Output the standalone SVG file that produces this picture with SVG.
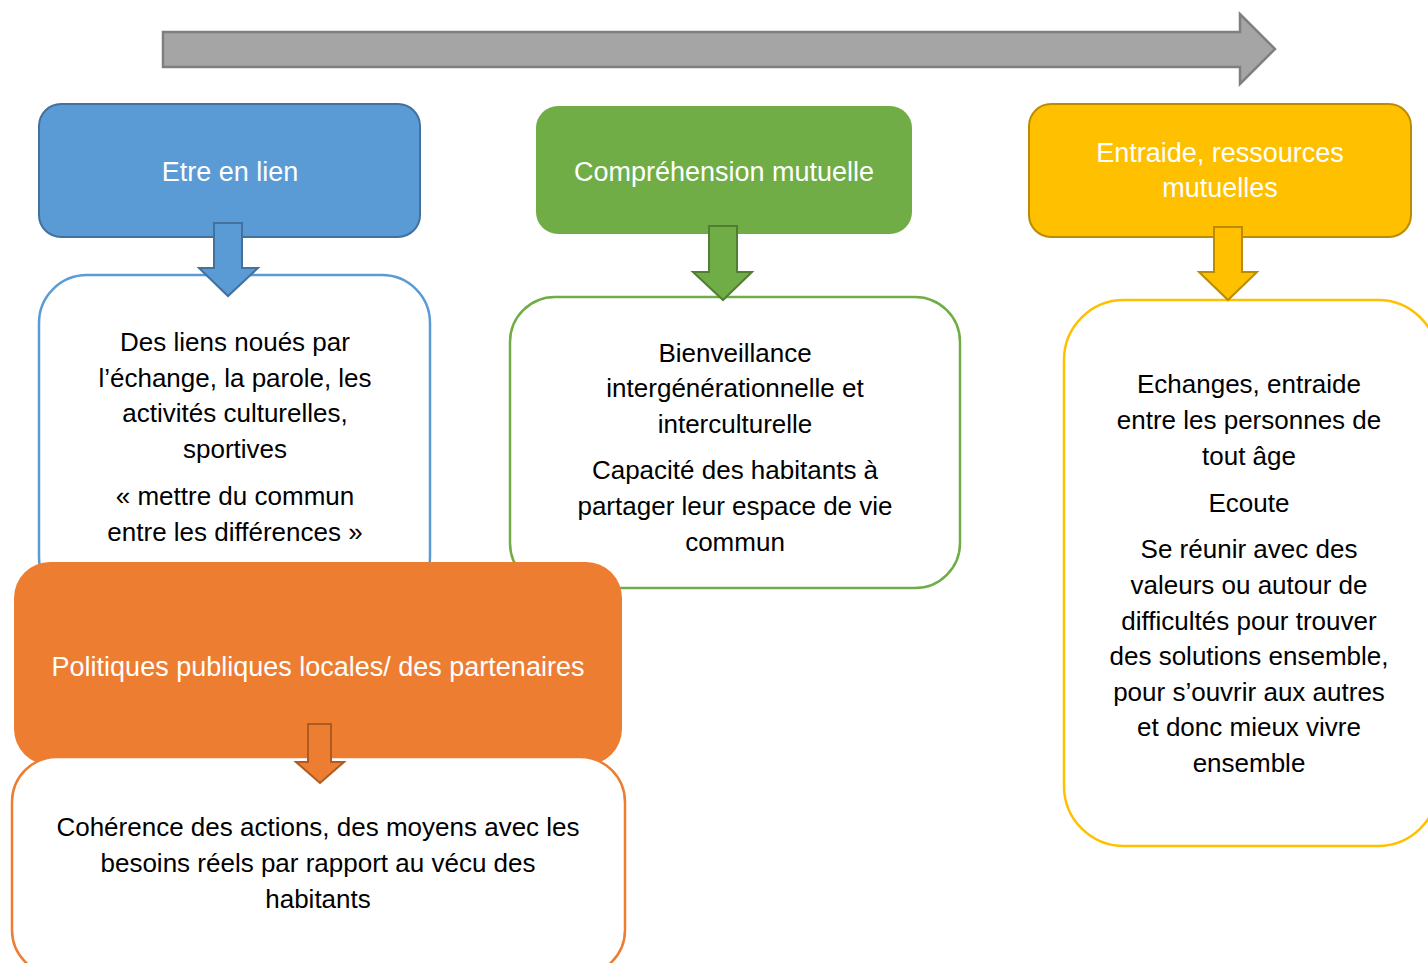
<svg xmlns="http://www.w3.org/2000/svg" width="1428" height="963" viewBox="0 0 1428 963">
<style>
text{font-family:"Liberation Sans",Arial,sans-serif;font-size:26px;text-anchor:middle}
.hd{fill:#ffffff;font-size:27px}
.bd{fill:#000000}
.box{fill:#ffffff;stroke-width:2.5}
</style>
<rect width="1428" height="963" fill="#ffffff"/>
<g id="timeline">
<path d="M163,32 H1240 V14 L1275,49 L1240,84 V67 H163 Z" fill="#a5a5a5" stroke="#7f7f7f" stroke-width="2.5"/>
</g>
<g id="blue-content">
<rect class="box" x="39" y="275" width="391" height="330" rx="48" stroke="#5b9bd5"/>
<text class="bd" x="235" y="351">Des liens noués par</text>
<text class="bd" x="235" y="386.5">l’échange, la parole, les</text>
<text class="bd" x="235" y="422">activités culturelles,</text>
<text class="bd" x="235" y="458">sportives</text>
<text class="bd" x="235" y="505">« mettre du commun</text>
<text class="bd" x="235" y="541">entre les différences »</text>
</g>
<g id="blue-header">
<rect x="39" y="104" width="381" height="133" rx="22" fill="#5b9bd5" stroke="#41719c" stroke-width="2"/>
<text class="hd" x="230" y="181">Etre en lien</text>
</g>
<g id="green-content">
<rect class="box" x="510" y="297" width="450" height="291" rx="45" stroke="#70ad47"/>
<text class="bd" x="735" y="361.5">Bienveillance</text>
<text class="bd" x="735" y="397">intergénérationnelle et</text>
<text class="bd" x="735" y="432.5">interculturelle</text>
<text class="bd" x="735" y="479">Capacité des habitants à</text>
<text class="bd" x="735" y="514.5">partager leur espace de vie</text>
<text class="bd" x="735" y="550.5">commun</text>
</g>
<g id="green-header">
<rect x="536" y="106" width="376" height="128" rx="22" fill="#70ad47"/>
<text class="hd" x="724" y="181">Compréhension mutuelle</text>
</g>
<g id="yellow-content">
<rect class="box" x="1064" y="300" width="374" height="546" rx="60" stroke="#ffc000"/>
<text class="bd" x="1249" y="393">Echanges, entraide</text>
<text class="bd" x="1249" y="429">entre les personnes de</text>
<text class="bd" x="1249" y="464.5">tout âge</text>
<text class="bd" x="1249" y="511.5">Ecoute</text>
<text class="bd" x="1249" y="558">Se réunir avec des</text>
<text class="bd" x="1249" y="593.5">valeurs ou autour de</text>
<text class="bd" x="1249" y="629.5">difficultés pour trouver</text>
<text class="bd" x="1249" y="665">des solutions ensemble,</text>
<text class="bd" x="1249" y="700.5">pour s’ouvrir aux autres</text>
<text class="bd" x="1249" y="736">et donc mieux vivre</text>
<text class="bd" x="1249" y="771.5">ensemble</text>
</g>
<g id="yellow-header">
<rect x="1029" y="104" width="382" height="133" rx="22" fill="#ffc000" stroke="#bc8c00" stroke-width="2"/>
<text class="hd" x="1220" y="161.5">Entraide, ressources</text>
<text class="hd" x="1220" y="197">mutuelles</text>
</g>
<g id="orange-header">
<rect x="14" y="562" width="608" height="203" rx="36" fill="#ed7d31"/>
<text class="hd" x="318" y="676">Politiques publiques locales/ des partenaires</text>
</g>
<g id="orange-content">
<rect class="box" x="12" y="757" width="613" height="218" rx="45" stroke="#ed7d31"/>
<text class="bd" x="318" y="836">Cohérence des actions, des moyens avec les</text>
<text class="bd" x="318" y="872">besoins réels par rapport au vécu des</text>
<text class="bd" x="318" y="908">habitants</text>
</g>
<g id="connectors">
<path d="M214,223 H242 V268 H258 L228,296 L199,268 H214 Z" fill="#5b9bd5" stroke="#41719c" stroke-width="2"/>
<path d="M709,226 H737 V272 H752 L723,300 L693,272 H709 Z" fill="#70ad47" stroke="#507e32" stroke-width="2"/>
<path d="M1214,227 H1242 V272 H1257 L1228,300 L1199,272 H1214 Z" fill="#ffc000" stroke="#bc8c00" stroke-width="2"/>
<path d="M308,724 H331 V762 H344 L320,783 L296,762 H308 Z" fill="#ed7d31" stroke="#ae5a21" stroke-width="2"/>
</g>
</svg>
